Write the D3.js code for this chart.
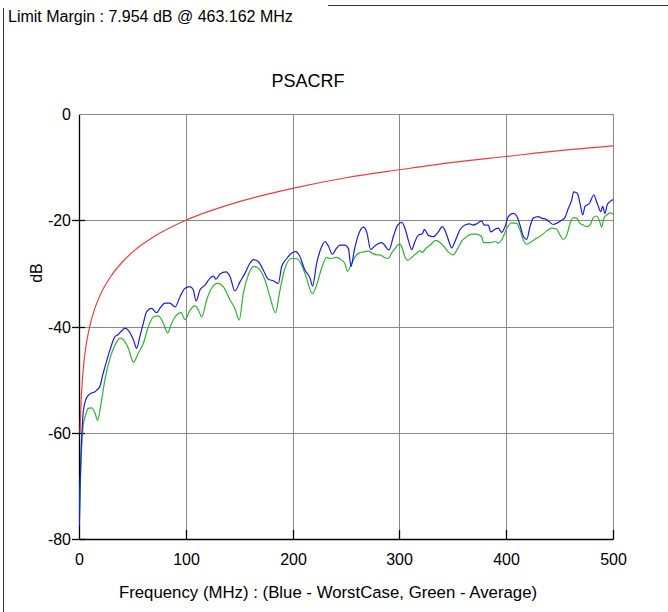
<!DOCTYPE html>
<html>
<head>
<meta charset="utf-8">
<script src="https://cdn.jsdelivr.net/npm/d3@7/dist/d3.min.js"></script>
<style>
  html, body { margin: 0; padding: 0; background: #fff; }
  svg { display: block; font-family: "Liberation Sans", Arial, Helvetica, sans-serif; }
</style>
</head>
<body>
<svg id="chart" width="668" height="612"></svg>
<script>
// ---------------- data ----------------
const titleText = "PSACRF";
const marginText = "Limit Margin : 7.954 dB @ 463.162 MHz";
const xTitle = "Frequency (MHz) : (Blue - WorstCase, Green - Average)";
const yTitle = "dB";
const xTicks = [0, 100, 200, 300, 400, 500];
const yTicks = [0, -20, -40, -60, -80];

const limitFreq = [1, 1.5, 2, 3, 4, 5, 7, 10, 15, 20, 30, 40, 50, 70, 100, 150, 200, 250, 300, 350, 400, 450, 500];
const limitDb   = [-60, -56.5, -54, -50.5, -48, -46, -43.1, -40, -36.5, -34, -30.5, -28, -26, -23.1, -20, -16.5, -14, -12, -10.5, -9.1, -8, -6.9, -6];

const blueFreq = [0.3, 1, 2, 3, 4, 6, 9, 12, 15, 17, 19.5, 22, 24.3, 29, 33.7, 36.8, 40, 43, 46, 50.9, 54, 57, 60.2, 63.4, 68, 72.7, 76, 80.5, 85, 90, 94.6, 99.3, 104, 107, 109.6, 113.3, 118, 122.7, 125.8, 128.3, 132, 137.6, 141.4, 146, 150.7, 155.4, 160, 163.2, 168, 172.6, 177.3, 182, 186.6, 189.8, 194.5, 199, 203, 206, 211.6, 216.3, 218.7, 222.5, 227.2, 230.3, 233.4, 237.2, 241, 244.4, 249, 252.2, 254.7, 257.8, 261.5, 266.2, 269.4, 273.1, 277.2, 283.4, 286.5, 290.3, 294.3, 298.4, 302.1, 305.2, 308.3, 311.5, 314.6, 317.7, 321.7, 323.3, 327, 331.8, 336.4, 340.2, 343.3, 346.4, 348.9, 352.6, 356.7, 361.4, 366, 369, 372.9, 377, 379.3, 383.2, 385.4, 389.5, 392.6, 395.7, 398.9, 402, 406.7, 409.8, 412.9, 416, 419.2, 422.3, 425.4, 430, 433.1, 437.3, 440.4, 444.1, 447.9, 451.9, 455, 458.1, 461.3, 463.2, 466.6, 469.1, 471.6, 473.8, 478, 482.2, 484.1, 486.3, 488.5, 490.3, 492.5, 494.6, 497.1, 500];
const blueDb = [-77.5, -70, -63, -59, -56, -54, -52.9, -52.5, -52.3, -51.9, -51.3, -49.3, -47.6, -44.4, -41.9, -41.5, -40.8, -40.3, -40.7, -42.5, -44.1, -41.9, -39.4, -37.2, -36.6, -37.4, -36.5, -35.6, -35.6, -36.3, -34.4, -32.8, -32.5, -33.1, -35.2, -33.1, -32.2, -30.9, -30.5, -31.1, -30.1, -29.7, -30.6, -33.3, -31.6, -30, -28.1, -27.4, -27.8, -29.4, -31.1, -31.4, -31.9, -28.7, -27.2, -26.2, -25.9, -26.5, -29.4, -30.9, -32.4, -28.1, -25, -24, -24.8, -26.4, -25.3, -24.7, -24.7, -25.3, -28.7, -25.6, -22.8, -21.3, -22.2, -25.5, -24.8, -24.2, -24.8, -25.6, -23.1, -20.9, -20.4, -21.5, -23.7, -25.5, -24, -22.8, -22.5, -21.7, -22.8, -23.1, -22.2, -21.2, -22.2, -24, -25.2, -23.7, -21.8, -20.9, -20.7, -20.9, -20.6, -20.1, -20.9, -20.9, -22.2, -21.7, -21.5, -22.3, -21.2, -19.3, -18.7, -19.2, -20.9, -23, -23.6, -21.2, -19.6, -19.3, -19.6, -19.8, -20.3, -20.8, -20.5, -20, -19.5, -17.8, -16.2, -14.64, -14.9, -16.8, -19, -17.4, -16.8, -15.2, -16.2, -17.4, -18.4, -17.4, -18.7, -17.1, -16.5, -16.1];

const greenFreq = [0.3, 1, 2, 3, 4, 6, 8.7, 11.8, 15, 17.4, 20.6, 24.3, 29, 33.7, 38.4, 41.5, 46.2, 51, 55.5, 60.2, 65, 69.6, 74.3, 79, 83, 86.7, 91.5, 95.5, 99.3, 104, 108.6, 111.8, 114.9, 119.5, 124.2, 129.5, 135, 141.4, 146, 150, 153.8, 158.5, 163.9, 169.5, 174, 178.8, 184, 187.6, 192.9, 199, 203.6, 208.5, 213, 218.5, 222.5, 227.2, 231.9, 235, 241, 246, 249, 251.5, 254.7, 258.4, 263, 267.8, 270.9, 274.6, 278.7, 281.8, 285.9, 289.6, 292.7, 295.9, 298.4, 300.5, 302.7, 305.2, 307.7, 312, 316.1, 319.3, 321.4, 323.9, 328.7, 334, 338, 342, 346.4, 350.5, 354.6, 358.9, 363, 367.7, 372.3, 377, 378.6, 384.8, 389.5, 392.6, 397.3, 400.5, 405.1, 409.8, 412.9, 416, 419.2, 423.8, 428.4, 433.1, 437.9, 442.6, 447.3, 450.4, 453.6, 456.7, 459.8, 462.9, 466, 469.1, 472.2, 475.4, 478.5, 481.6, 484.7, 487.2, 489.4, 491.5, 494.1, 497.4, 500];
const greenDb = [-77, -71, -65, -61, -58.5, -56.8, -55.4, -55.3, -56.3, -57.7, -54.5, -50, -46, -43.5, -42.2, -42.5, -44.1, -46.7, -45, -43.2, -40, -38.2, -38, -39.4, -41.2, -39.4, -37.8, -37.4, -38.7, -36.9, -36.1, -36.9, -38.2, -35, -32.8, -31.9, -32.5, -35, -36.6, -38.8, -33.8, -30.3, -28.7, -29.4, -31.2, -34.4, -37.4, -33.8, -29, -27.2, -27.2, -28.4, -30.9, -33.8, -32.2, -29, -27, -27.2, -27, -27.5, -28.2, -29.6, -28.4, -26.9, -26.1, -25.9, -25.8, -26.2, -26.5, -26.5, -27, -27.2, -26.2, -25.3, -24.7, -24.5, -25.3, -26.9, -27.5, -26.9, -26.2, -25.7, -26.1, -25.5, -24.7, -23.8, -24.2, -25, -26.1, -26.5, -25.3, -23.8, -23.1, -22.6, -22.6, -23.1, -24.2, -24.2, -24, -24.3, -23.1, -21.5, -20.5, -20.6, -21.8, -23.7, -24.5, -24, -23.4, -22.8, -22, -21.5, -21.7, -22.8, -23.6, -22.8, -20.6, -19.5, -19.6, -20.6, -20.9, -21.2, -20.9, -19.5, -19.2, -20, -21.3, -19.6, -19, -18.6, -18.8];

// ---------------- layout ----------------
const plot = { left: 79, right: 613, top: 114, bottom: 539 };
const svg = d3.select("#chart");

const x = d3.scaleLinear().domain([0, 500]).range([plot.left, plot.right]);
const y = d3.scaleLinear().domain([-80, 0]).range([plot.bottom, plot.top]);

// outer frame
svg.append("line").attr("x1", 3.5).attr("x2", 3.5).attr("y1", 8).attr("y2", 612)
  .attr("stroke", "#333").attr("stroke-width", 1);
svg.append("line").attr("x1", 328).attr("x2", 668).attr("y1", 5.5).attr("y2", 5.5)
  .attr("stroke", "#333").attr("stroke-width", 1);

// margin text
svg.append("text").attr("x", 8).attr("y", 22).attr("font-size", 16).attr("fill", "#000").text(marginText);

// title
svg.append("text").attr("x", 308).attr("y", 87).attr("text-anchor", "middle")
  .attr("font-size", 18).attr("fill", "#000").text(titleText);

// grid
const grid = svg.append("g").attr("stroke", "#8a8a8a").attr("stroke-width", 1);
xTicks.filter(d => d !== 0).forEach(d => {
  grid.append("line").attr("x1", Math.round(x(d)) + 0.5).attr("x2", Math.round(x(d)) + 0.5)
    .attr("y1", plot.top).attr("y2", plot.bottom);
});
yTicks.filter(d => d !== -80).forEach(d => {
  grid.append("line").attr("y1", Math.round(y(d)) + 0.5).attr("y2", Math.round(y(d)) + 0.5)
    .attr("x1", plot.left).attr("x2", plot.right);
});

// axes lines
svg.append("line").attr("x1", plot.left + 0.5).attr("x2", plot.left + 0.5)
  .attr("y1", plot.top + 1).attr("y2", plot.bottom + 0.5).attr("stroke", "#000").attr("stroke-width", 1.3);
svg.append("line").attr("x1", plot.left).attr("x2", plot.right + 0.5)
  .attr("y1", plot.bottom + 0.5).attr("y2", plot.bottom + 0.5).attr("stroke", "#000").attr("stroke-width", 1.3);

// y ticks + labels
yTicks.forEach(d => {
  const yy = Math.round(y(d)) + 0.5;
  if (d !== 0) {
    svg.append("line").attr("x1", 72).attr("x2", 85).attr("y1", yy).attr("y2", yy)
      .attr("stroke", "#000").attr("stroke-width", 1.3);
  }
  svg.append("text").attr("x", 71).attr("y", yy + 5.5).attr("text-anchor", "end")
    .attr("font-size", 16).attr("fill", "#000").text(d);
});

// x ticks + labels
xTicks.forEach(d => {
  const xx = Math.round(x(d)) + 0.5;
  if (d !== 0) {
    svg.append("line").attr("x1", xx).attr("x2", xx).attr("y1", plot.bottom - 9).attr("y2", plot.bottom + 0.5)
      .attr("stroke", "#000").attr("stroke-width", 1.3);
  }
  svg.append("text").attr("x", xx).attr("y", 565).attr("text-anchor", "middle")
    .attr("font-size", 16).attr("fill", "#000").text(d);
});

// axis titles
svg.append("text").attr("x", 328).attr("y", 598).attr("text-anchor", "middle")
  .attr("font-size", 16.8).attr("fill", "#000").text(xTitle);
svg.append("text").attr("transform", "translate(42,273) rotate(-90)").attr("text-anchor", "middle")
  .attr("font-size", 16).attr("fill", "#000").text(yTitle);

// clip
svg.append("clipPath").attr("id", "clip").append("rect")
  .attr("x", plot.left).attr("y", plot.top).attr("width", plot.right - plot.left).attr("height", plot.bottom - plot.top);

const line = d3.line().x(d => x(d[0])).y(d => y(d[1])).curve(d3.curveMonotoneX);
const series = [
  { f: limitFreq, v: limitDb, color: "#f03c3c" },
  { f: greenFreq, v: greenDb, color: "#2db52d" },
  { f: blueFreq, v: blueDb, color: "#1a1ae6" }
];
const g = svg.append("g").attr("clip-path", "url(#clip)");
series.forEach(s => {
  g.append("path").datum(s.f.map((f, i) => [f, s.v[i]]))
    .attr("d", line).attr("fill", "none").attr("stroke", s.color).attr("stroke-width", 1.2);
});
</script>
</body>
</html>
